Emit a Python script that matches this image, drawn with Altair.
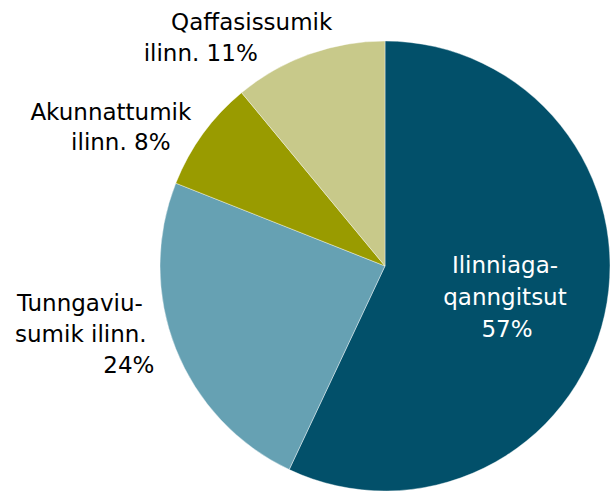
import altair as alt
import pandas as pd

# Data
categories = ["Ilinniagaqanngitsut", "Tunngaviusumik ilinn.", "Akunnattumik ilinn.", "Qaffasissumik ilinn."]
values = [57, 24, 8, 11]
label_lines = [
    ["Ilinniaga-", "qanngitsut", "57%"],
    ["Tunngaviu-", "sumik ilinn.", "24%"],
    ["Akunnattumik", "ilinn. 8%"],
    ["Qaffasissumik", "ilinn. 11%"],
]

# Styles
colors = ["#02506A", "#66A1B3", "#999B00", "#C8C98A"]
label_radius = [125, 240, 240, 240]
label_color = ["white", "black", "black", "black"]
# per-line (dx, dy) offsets from the label anchor
line_offsets = [
    [(-2, -20), (-2, 12), (0, 44)],
    [(-82, -43), (-81, -12), (-33, 19)],
    [(-80, -5), (-70, 25)],
    [(-52, -10), (-103, 21)],
]
FONT = "DejaVu Sans"
FS = 23

total = sum(values)
df = pd.DataFrame({"category": categories, "value": values, "idx": list(range(len(values)))})

theta_scale = alt.Scale(domain=[0, total])

pie = alt.Chart(df).mark_arc(stroke="white", strokeWidth=0.4).encode(
    theta=alt.Theta("value:Q", stack=True, scale=theta_scale),
    color=alt.Color("category:N", scale=alt.Scale(domain=categories, range=colors), legend=None),
    order=alt.Order("idx:Q"),
)

layers = [pie]
cum = 0
for i, (cat, v) in enumerate(zip(categories, values)):
    mid = cum + v / 2
    cum += v
    for j, line in enumerate(label_lines[i]):
        dx, dy = line_offsets[i][j]
        ldf = pd.DataFrame({"category": [cat], "mid": [mid], "line": [line]})
        t = alt.Chart(ldf).mark_text(
            font=FONT, fontSize=FS, align="center", baseline="alphabetic",
            dx=dx, dy=dy, color=label_color[i],
        ).encode(
            theta=alt.Theta("mid:Q", stack=None, scale=theta_scale),
            radius=alt.value(label_radius[i]),
            text="line:N",
        )
        layers.append(t)

chart = alt.layer(*layers).properties(
    width=450, height=450,
    autosize=alt.AutoSizeParams(type="none"),
    padding={"left": 160, "top": 41, "right": 1, "bottom": 0},
).configure_view(stroke=None)

chart.save("out.html", embed_options={"renderer": "svg", "actions": False})
